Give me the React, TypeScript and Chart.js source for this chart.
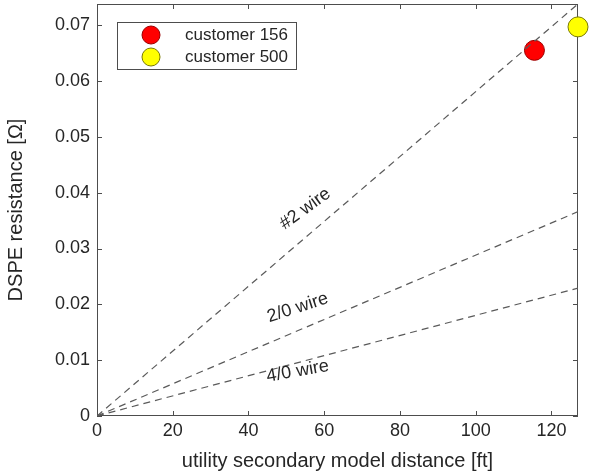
import React, { useEffect, useRef } from "react";
import { Chart, registerables } from "chart.js";

Chart.register(...registerables);

// ---- data ----
const lineX = [0, 127];
const wire2Y = [0, 0.0738];
const wire20Y = [0, 0.0366];
const wire40Y = [0, 0.0229];

const customerNames = ["customer 156", "customer 500"];
const customerX = [115.5, 127];
const customerY = [0.0655, 0.0697];

const wireLabels = ["#2 wire", "2/0 wire", "4/0 wire"];
const wireLabelX = [55, 53, 53];
const wireLabelY = [0.0371, 0.0194, 0.008];
const wireLabelAngle = [-36, -18, -10];

const xTicks = [0, 20, 40, 60, 80, 100, 120];
const yTicks = [0, 0.01, 0.02, 0.03, 0.04, 0.05, 0.06, 0.07];

const FONT = "'Liberation Sans', Arial, sans-serif";
const TEXT = "#262626";
const AXIS = "#4d4d4d";

const customColors = [
  { fill: "#ff0000", border: "#9a0000" },
  { fill: "#ffff00", border: "#7a7a00" },
];

const decorPlugin = {
  id: "decor",
  beforeDatasetsDraw(chart: any) {
    const { ctx, chartArea: a, scales } = chart;
    const xs = scales.x;
    const ys = scales.y;
    ctx.save();
    ctx.strokeStyle = AXIS;
    ctx.lineWidth = 1;
    ctx.strokeRect(a.left + 0.5, a.top + 0.5, a.right - a.left - 1, a.bottom - a.top - 1);
    const tl = 5;
    ctx.beginPath();
    xTicks.forEach((v) => {
      const px = Math.round(xs.getPixelForValue(v)) + 0.5;
      ctx.moveTo(px, a.bottom);
      ctx.lineTo(px, a.bottom - tl);
      ctx.moveTo(px, a.top);
      ctx.lineTo(px, a.top + tl);
    });
    yTicks.forEach((v) => {
      const py = Math.round(ys.getPixelForValue(v)) + 0.5;
      ctx.moveTo(a.left, py);
      ctx.lineTo(a.left + tl, py);
      ctx.moveTo(a.right, py);
      ctx.lineTo(a.right - tl, py);
    });
    ctx.stroke();
    ctx.restore();
  },
  afterDatasetsDraw(chart: any) {
    const { ctx, scales } = chart;
    ctx.save();
    ctx.fillStyle = TEXT;
    ctx.font = `18px ${FONT}`;
    ctx.textAlign = "center";
    ctx.textBaseline = "middle";
    wireLabels.forEach((t, i) => {
      const px = scales.x.getPixelForValue(wireLabelX[i]);
      const py = scales.y.getPixelForValue(wireLabelY[i]);
      ctx.save();
      ctx.translate(px, py);
      ctx.rotate((wireLabelAngle[i] * Math.PI) / 180);
      ctx.fillText(t, 0, 0);
      ctx.restore();
    });
    ctx.restore();
  },
  afterDraw(chart: any) {
    const { ctx, chartArea: a } = chart;
    ctx.save();
    const bx = a.left + 20;
    const by = a.top + 18;
    const bw = 179;
    const bh = 47;
    ctx.fillStyle = "#ffffff";
    ctx.fillRect(bx, by, bw, bh);
    ctx.strokeStyle = AXIS;
    ctx.lineWidth = 1;
    ctx.strokeRect(bx + 0.5, by + 0.5, bw, bh);
    ctx.font = `17px ${FONT}`;
    ctx.textBaseline = "middle";
    ctx.textAlign = "left";
    customerNames.forEach((n, i) => {
      const cy = by + 13 + i * 22;
      ctx.beginPath();
      ctx.arc(bx + 34, cy, 9, 0, Math.PI * 2);
      ctx.fillStyle = customColors[i].fill;
      ctx.fill();
      ctx.strokeStyle = customColors[i].border;
      ctx.stroke();
      ctx.fillStyle = TEXT;
      ctx.fillText(n, bx + 68, cy);
    });
    ctx.restore();
  },
};

export default function App() {
  const ref = useRef<HTMLCanvasElement>(null);
  useEffect(() => {
    document.body.style.margin = "0";
    const mkLine = (ys: number[]) => ({
      type: "line" as const,
      data: lineX.map((x, i) => ({ x, y: ys[i] })),
      borderColor: "#5a5a5a",
      borderWidth: 1.2,
      borderDash: [7, 5],
      pointRadius: 0,
      fill: false,
      showLine: true,
    });
    const chart = new Chart(ref.current as HTMLCanvasElement, {
      type: "scatter",
      data: {
        datasets: [
          mkLine(wire2Y),
          mkLine(wire20Y),
          mkLine(wire40Y),
          ...customerNames.map((n, i) => ({
            type: "scatter" as const,
            label: n,
            data: [{ x: customerX[i], y: customerY[i] }],
            backgroundColor: customColors[i].fill,
            borderColor: customColors[i].border,
            borderWidth: 1,
            pointRadius: 10,
            clip: false as any,
          })),
        ] as any,
      },
      options: {
        animation: false,
        responsive: false,
        maintainAspectRatio: false,
        layout: { autoPadding: false, padding: { top: 4, right: 12, left: 0, bottom: 0 } },
        plugins: { legend: { display: false }, tooltip: { enabled: false } },
        scales: {
          x: {
            type: "linear",
            min: 0,
            max: 127,
            afterFit: (s: any) => {
              s.height = 59;
              s.paddingLeft = 0;
              s.paddingRight = 0;
            },
            afterBuildTicks: (s: any) => {
              s.ticks = xTicks.map((v) => ({ value: v }));
            },
            grid: { display: false, drawTicks: false },
            border: { display: false },
            ticks: {
              padding: 4,
              color: TEXT,
              font: { family: FONT, size: 18 },
              maxRotation: 0,
              autoSkip: false,
            },
            title: {
              display: true,
              text: "utility secondary model distance [ft]",
              color: TEXT,
              font: { family: FONT, size: 20 },
              padding: { top: 0, bottom: 2 },
            },
          },
          y: {
            type: "linear",
            min: 0,
            max: 0.0738,
            afterFit: (s: any) => {
              s.width = 97;
              s.paddingTop = 0;
              s.paddingBottom = 0;
            },
            afterBuildTicks: (s: any) => {
              s.ticks = yTicks.map((v) => ({ value: v }));
            },
            grid: { display: false, drawTicks: false },
            border: { display: false },
            ticks: {
              padding: 7,
              color: TEXT,
              font: { family: FONT, size: 18 },
              autoSkip: false,
              callback: (v: any) => String(Math.round(Number(v) * 100) / 100),
            },
            title: {
              display: true,
              text: "DSPE resistance [Ω]",
              color: TEXT,
              font: { family: FONT, size: 20 },
              padding: { top: 4, bottom: 0 },
            },
          },
        },
      },
      plugins: [decorPlugin],
    });
    return () => chart.destroy();
  }, []);
  return (
    <div style={{ width: 590, height: 475 }}>
      <canvas ref={ref} width={590} height={475} style={{ display: "block" }} />
    </div>
  );
}
